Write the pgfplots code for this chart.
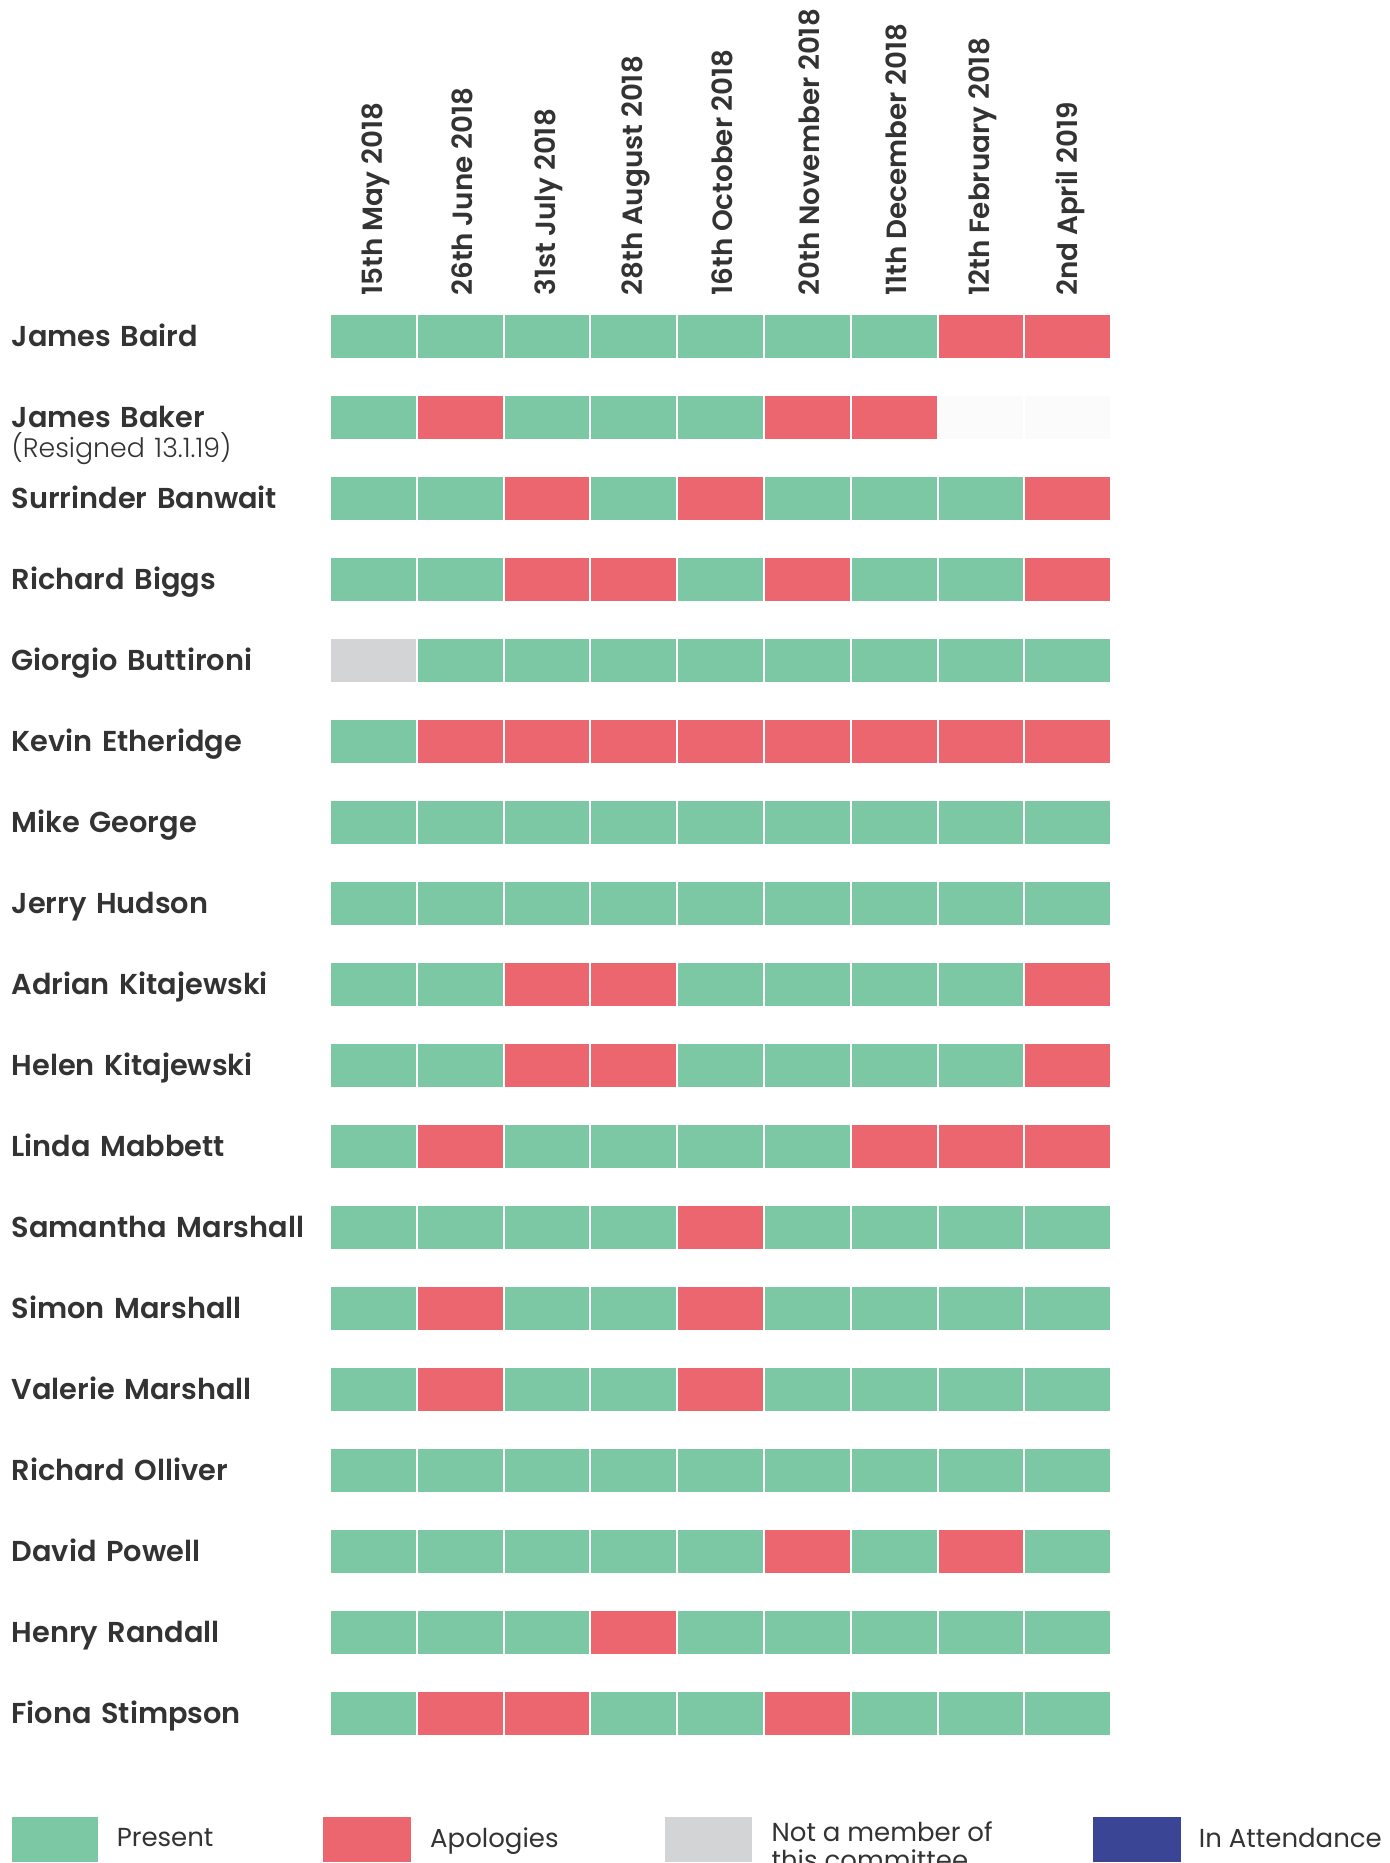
\documentclass[border=0pt]{standalone}
\usepackage{pgfplots}
\usepackage{pgfplotstable}
\pgfplotsset{compat=1.18}
\usepackage{fontspec}
\setmainfont{Poppins}
\newfontfamily\semi{Poppins SemiBold}
\newfontfamily\lightf{Poppins Light}
\definecolor{pres}{HTML}{7CC8A5}
\definecolor{apol}{HTML}{EC6670}
\definecolor{notm}{HTML}{D3D4D6}
\definecolor{inatt}{HTML}{3B4596}
\definecolor{blank}{HTML}{FBFBFB}
\definecolor{txt}{HTML}{333333}

\pgfdeclareplotmark{cell}{%
  \pgfpathrectangle{\pgfpoint{-21.2pt}{-10.75pt}}{\pgfpoint{42.4pt}{21.5pt}}%
  \pgfusepathqfill}

% row = member (0 = top), c0..c8 = meetings; P present, A apologies, N not a member, B blank
\pgfplotstableread{
row c0 c1 c2 c3 c4 c5 c6 c7 c8
0  P P P P P P P A A
1  P A P P P A A B B
2  P P A P A P P P A
3  P P A A P A P P A
4  N P P P P P P P P
5  P A A A A A A A A
6  P P P P P P P P P
7  P P P P P P P P P
8  P P A A P P P P A
9  P P A A P P P P A
10 P A P P P P A A A
11 P P P P A P P P P
12 P A P P A P P P P
13 P A P P A P P P P
14 P P P P P P P P P
15 P P P P P A P A P
16 P P P A P P P P P
17 P A A P P A P P P
}\att

\begin{document}
\begin{tikzpicture}
\begin{axis}[
  at={(165pt,-148pt)}, anchor=north west,
  x=43.4pt, y=40.5pt,
  xmin=-0.5, xmax=8.5, ymin=-17.5, ymax=0.5,
  clip=false,
  axis line style={draw=none},
  major tick length=0pt,
  xtick={0,...,8},
  xticklabels={15th May 2018,26th June 2018,31st July 2018,28th August 2018,16th October 2018,20th November 2018,11th December 2018,12th February 2018,2nd April 2019},
  xticklabel pos=upper,
  xticklabel style={rotate=90, anchor=west, inner sep=0pt, text=txt, yshift=-1pt,
    font=\semi\fontsize{13.9}{16}\selectfont},
  ytick={-17,...,0},
  yticklabels={Fiona Stimpson,Henry Randall,David Powell,Richard Olliver,Valerie Marshall,Simon Marshall,Samantha Marshall,Linda Mabbett,Helen Kitajewski,Adrian Kitajewski,Jerry Hudson,Mike George,Kevin Etheridge,Giorgio Buttironi,Richard Biggs,Surrinder Banwait,{\begin{tabular}[t]{@{}l@{}}James Baker\\[-2.5pt]{\lightf\fontsize{13.4}{16}\selectfont (Resigned 13.1.19)}\end{tabular}},James Baird},
  yticklabel style={anchor=east, inner sep=0pt, text width=159pt, align=left,
    text height=0.95em, text depth=0pt, text=txt,
    font=\semi\fontsize{14.4}{17}\selectfont},
  legend style={at={(axis description cs:0,0)}, anchor=west, xshift=-159pt, yshift=-42.5pt,
    draw=none, fill=none, legend columns=4, column sep=0pt, inner sep=0pt, outer sep=0pt,
    nodes={inner sep=0pt, text=txt, font=\fontsize{13}{15}\selectfont},
    cells={anchor=west}},
  scatter/classes={
    P={mark=cell, fill=pres},
    A={mark=cell, fill=apol},
    N={mark=cell, fill=notm},
    B={mark=cell, fill=blank}},
]
\pgfplotsinvokeforeach{0,...,8}{
  \addplot[scatter, only marks, forget plot, point meta=explicit symbolic]
    table[x expr=#1, y expr=-\thisrow{row}, meta=c#1] {\att};
}
\addlegendimage{legend image code/.code={\fill[pres] (0pt,-11pt) rectangle (42.5pt,11pt);}}
\addlegendentry{\makebox[112.8pt][l]{\hspace*{9.5pt}Present}}
\addlegendimage{legend image code/.code={\fill[apol] (0pt,-11pt) rectangle (43.5pt,11pt);}}
\addlegendentry{\makebox[126.8pt][l]{\hspace*{9.5pt}Apologies}}
\addlegendimage{legend image code/.code={\fill[notm] (0pt,-11pt) rectangle (43pt,11pt);}}
\addlegendentry{\makebox[170.8pt][l]{\hspace*{10pt}\begin{tabular}{@{}l@{}}Not a member of\\[-1pt]this committee\end{tabular}}}
\addlegendimage{legend image code/.code={\fill[inatt] (0pt,-11pt) rectangle (43.5pt,11pt);}}
\addlegendentry{\makebox[95pt][l]{\hspace*{9pt}In Attendance}}
\end{axis}
\pgfresetboundingbox
\useasboundingbox (0,0) rectangle (694.5pt,-931.5pt);
\end{tikzpicture}
\end{document}
